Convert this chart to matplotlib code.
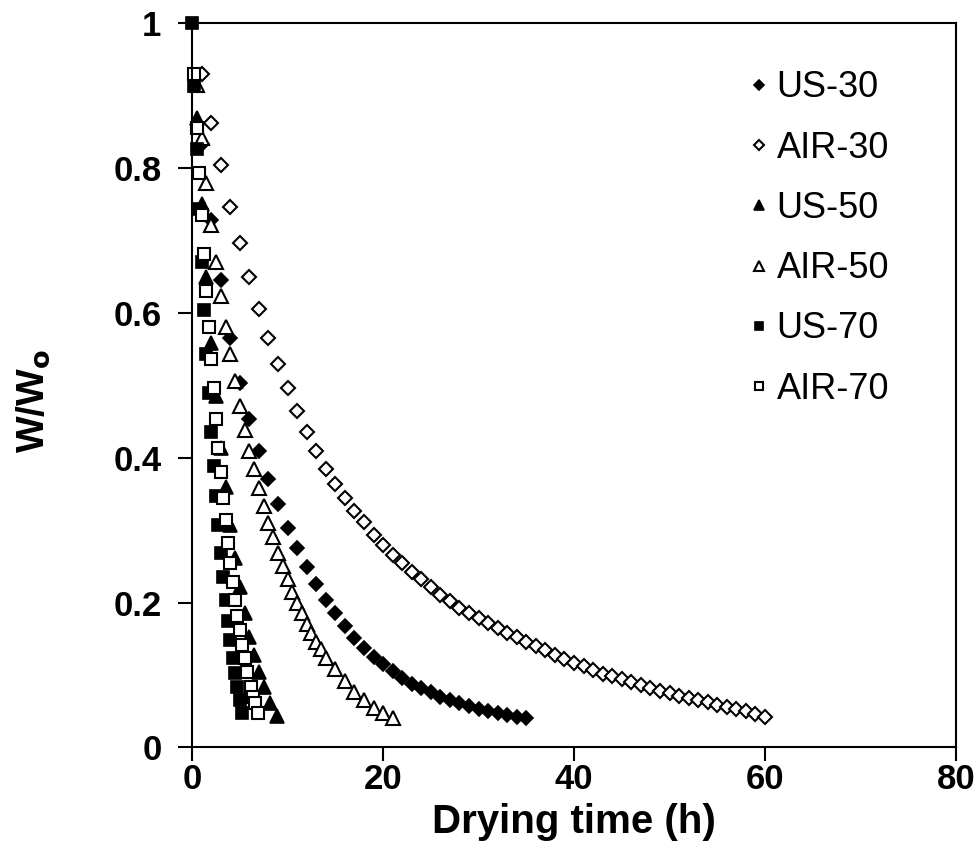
import matplotlib
matplotlib.use("Agg")
import matplotlib.pyplot as plt

plt.rcParams['font.family'] = ['Liberation Sans', 'DejaVu Sans']

# drying curves, W/Wo against drying time (h)
# (the t=0 point, W/Wo=1, only shows for US-70 - the others sit under it)
us30_t = [1, 2, 3, 4, 5, 6, 7, 8, 9, 10, 11, 12, 13, 14, 15, 16, 17, 18,
          19, 20, 21, 22, 23, 24, 25, 26, 27, 28, 29, 30, 31, 32, 33, 34, 35]
us30_w = [0.834, 0.729, 0.645, 0.566, 0.503, 0.453, 0.409, 0.370, 0.336,
          0.303, 0.275, 0.249, 0.225, 0.204, 0.185, 0.167, 0.151, 0.137, 0.125,
          0.115, 0.105, 0.096, 0.088, 0.082, 0.076, 0.070, 0.066, 0.061, 0.057,
          0.053, 0.050, 0.047, 0.045, 0.042, 0.041]

air30_t = [1, 2, 3, 4, 5, 6, 7, 8, 9, 10, 11, 12, 13, 14, 15, 16, 17, 18,
           19, 20, 21, 22, 23, 24, 25, 26, 27, 28, 29, 30, 31, 32, 33, 34, 35,
           36, 37, 38, 39, 40, 41, 42, 43, 44, 45, 46, 47, 48, 49, 50, 51, 52,
           53, 54, 55, 56, 57, 58, 59, 60]
air30_w = [0.930, 0.863, 0.804, 0.747, 0.696, 0.649, 0.606, 0.566, 0.530,
           0.496, 0.464, 0.435, 0.409, 0.385, 0.364, 0.345, 0.326, 0.311, 0.294,
           0.279, 0.266, 0.254, 0.242, 0.232, 0.221, 0.211, 0.202, 0.193, 0.186,
           0.179, 0.172, 0.165, 0.158, 0.152, 0.146, 0.140, 0.134, 0.128, 0.122,
           0.117, 0.112, 0.107, 0.102, 0.098, 0.094, 0.090, 0.086, 0.082, 0.078,
           0.075, 0.071, 0.068, 0.065, 0.062, 0.059, 0.056, 0.053, 0.050, 0.046,
           0.042]

us50_t = [0.5, 1.0, 1.5, 2.0, 2.5, 3.0, 3.5, 4.0, 4.5, 5.0, 5.5, 6.0, 6.5,
          7.0, 7.5, 8.2, 8.9]
us50_w = [0.869, 0.751, 0.649, 0.559, 0.485, 0.414, 0.359, 0.307, 0.262,
          0.222, 0.185, 0.153, 0.128, 0.104, 0.083, 0.061, 0.044]

air50_t = [0.5, 1.0, 1.5, 2.0, 2.5, 3.0, 3.5, 4.0, 4.5, 5.0, 5.5, 6.0, 6.5,
           7.0, 7.5, 8.0, 8.5, 9.0, 9.5, 10.0, 10.5, 11.0, 11.5, 12.0, 12.5,
           13.0, 13.5, 14, 15, 16, 17, 18, 19, 20, 21]
air50_w = [0.915, 0.841, 0.779, 0.721, 0.670, 0.624, 0.580, 0.544, 0.506,
           0.472, 0.439, 0.410, 0.384, 0.358, 0.333, 0.310, 0.290, 0.269, 0.250,
           0.232, 0.214, 0.199, 0.185, 0.171, 0.158, 0.146, 0.136, 0.124, 0.108,
           0.091, 0.077, 0.066, 0.055, 0.047, 0.041]

us70_t = [0, 0.25, 0.5, 0.75, 1.0, 1.25, 1.5, 1.75, 2.0, 2.25, 2.5, 2.75, 3.0,
          3.25, 3.5, 3.75, 4.0, 4.25, 4.5, 4.75, 5.0, 5.25]
us70_w = [1.0, 0.914, 0.827, 0.744, 0.670, 0.604, 0.544, 0.489, 0.435, 0.388,
          0.347, 0.307, 0.268, 0.235, 0.203, 0.174, 0.148, 0.124, 0.103, 0.084,
          0.065, 0.047]

air70_t = [0.25, 0.5, 0.75, 1.0, 1.25, 1.5, 1.75, 2.0, 2.25, 2.5, 2.75, 3.0,
           3.25, 3.5, 3.75, 4.0, 4.25, 4.5, 4.75, 5.0, 5.25, 5.5, 5.75, 6.2,
           6.4, 6.6, 6.9]
air70_w = [0.930, 0.855, 0.794, 0.735, 0.682, 0.631, 0.581, 0.536, 0.496,
           0.453, 0.414, 0.380, 0.345, 0.314, 0.282, 0.254, 0.228, 0.204, 0.181,
           0.162, 0.141, 0.123, 0.104, 0.083, 0.070, 0.061, 0.047]

fig = plt.figure(figsize=(9.8, 8.66), dpi=100)
ax = fig.add_axes([0.196, 0.137, 0.7795, 0.836])

style = dict(linestyle='none', mec='black', clip_on=False)
ax.plot(us30_t, us30_w, 'D', ms=7.5, color='black', mew=1.2, label='US-30', **style)
ax.plot(air30_t, air30_w, 'D', ms=7.5, color='white', mew=1.5, label='AIR-30', **style)
ax.plot(us50_t, us50_w, '^', ms=9.5, color='black', mew=1.2, label='US-50', **style)
ax.plot(air50_t, air50_w, '^', ms=9.5, color='white', mew=1.5, label='AIR-50', **style)
ax.plot(us70_t, us70_w, 's', ms=9, color='black', mew=1.2, label='US-70', **style)
ax.plot(air70_t, air70_w, 's', ms=9, color='white', mew=1.5, label='AIR-70', **style)

ax.set_xlim(0, 80)
ax.set_ylim(0, 1)
ax.set_xticks([0, 20, 40, 60, 80])
ax.set_yticks([0, 0.2, 0.4, 0.6, 0.8, 1])
ax.set_yticklabels(['0', '0.2', '0.4', '0.6', '0.8', '1'])
ax.tick_params(direction='out', length=10, width=1.5, labelsize=25)
ax.tick_params(axis='x', pad=1)
ax.tick_params(axis='y', pad=12)
for lab in ax.get_xticklabels() + ax.get_yticklabels():
    lab.set_fontweight('bold')
for sp in ax.spines.values():
    sp.set_linewidth(1.5)

ax.set_xlabel('Drying time (h)', fontsize=29, fontweight='bold', labelpad=5)
ax.set_ylabel(r'W/W$_\mathbf{o}$', fontsize=28, fontweight='bold')
ax.yaxis.set_label_coords(-0.183, 0.478)

ax.legend(loc='upper right', bbox_to_anchor=(0.955, 0.98), frameon=False,
          fontsize=26, markerscale=0.7, handlelength=0.6, handletextpad=0.2,
          labelspacing=0.7)

fig.savefig('out.png', dpi=100)
